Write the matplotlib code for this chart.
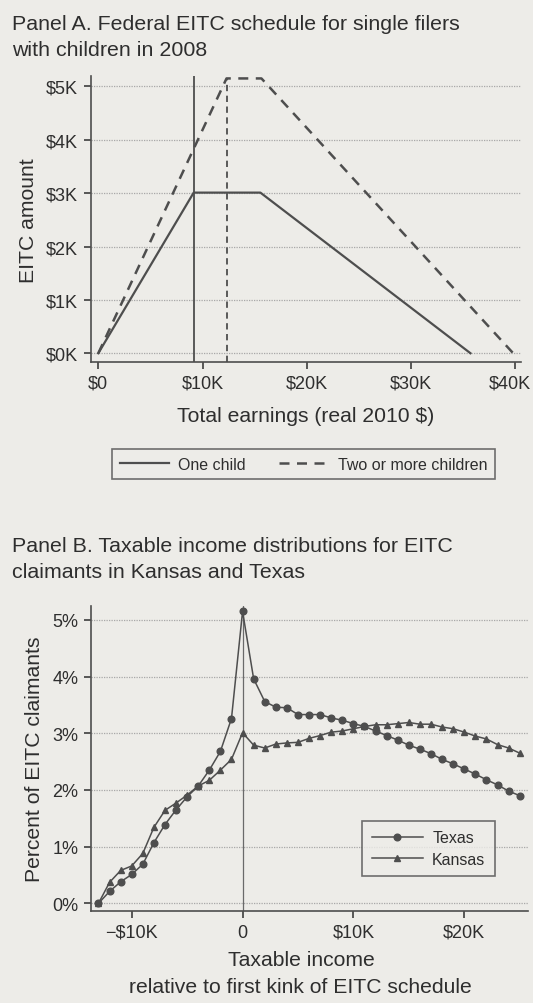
import numpy as np
import matplotlib
matplotlib.use("Agg")
import matplotlib.pyplot as plt
import matplotlib.transforms as mtransforms
from matplotlib.ticker import FuncFormatter

# Panel A: EITC schedule kinks (earnings in $K, credit in $K)
one_child_x = [0, 9.15, 15.55, 35.7]
one_child_y = [0, 3.01, 3.01, 0]
two_child_x = [0, 12.3, 15.65, 39.8]
two_child_y = [0, 5.15, 5.15, 0]
kink_one = 9.15
kink_two = 12.3
a_xticks = [0, 10, 20, 30, 40]
a_xlabels = [r"\$0", r"\$10K", r"\$20K", r"\$30K", r"\$40K"]
a_yticks = [0, 1, 2, 3, 4, 5]
a_ylabels = [r"\$0K", r"\$1K", r"\$2K", r"\$3K", r"\$4K", r"\$5K"]

# Panel B: taxable income bins relative to first kink ($K), percent of claimants
bins = list(range(-13, 26))
texas = [0.0, 0.21, 0.38, 0.51, 0.69, 1.07, 1.39, 1.65, 1.88, 2.07, 2.35, 2.68, 3.26,
         5.15, 3.96, 3.56, 3.46, 3.45, 3.33, 3.33, 3.33, 3.27, 3.23, 3.17, 3.12, 3.04,
         2.96, 2.88, 2.79, 2.72, 2.64, 2.54, 2.46, 2.37, 2.28, 2.18, 2.09, 1.98, 1.90]
kansas = [0.0, 0.37, 0.58, 0.66, 0.88, 1.34, 1.64, 1.77, 1.91, 2.07, 2.17, 2.35, 2.54,
          3.01, 2.79, 2.74, 2.81, 2.83, 2.84, 2.91, 2.96, 3.02, 3.04, 3.08, 3.12, 3.15,
          3.15, 3.17, 3.19, 3.16, 3.16, 3.11, 3.08, 3.02, 2.95, 2.90, 2.80, 2.74, 2.65]
b_xticks = [-10, 0, 10, 20]
b_xlabels = ["\u2212\\$10K", "0", r"\$10K", r"\$20K"]
b_yticks = [0, 1, 2, 3, 4, 5]

BG = "#edece8"
INK = "#2e2e2e"
LINE = "#4e4e4e"
GRID = "#a8a8a8"

plt.rcParams["font.family"] = ["Liberation Sans", "DejaVu Sans"]
plt.rcParams["text.color"] = INK
plt.rcParams["axes.labelcolor"] = INK
plt.rcParams["xtick.color"] = INK
plt.rcParams["ytick.color"] = INK

W, H = 533, 1004
fig = plt.figure(figsize=(W / 100, H / 100), dpi=100, facecolor=BG)


def px_axes(left, top, right, bottom):
    return fig.add_axes([left / W, 1 - bottom / H, (right - left) / W, (bottom - top) / H])


def style(ax):
    ax.set_facecolor(BG)
    for s in ["top", "right"]:
        ax.spines[s].set_visible(False)
    for s in ["left", "bottom"]:
        ax.spines[s].set_color(LINE)
        ax.spines[s].set_linewidth(1.2)
    ax.tick_params(direction="out", length=5, width=1.1, labelsize=13, pad=4, colors=INK)
    ax.grid(axis="y", color=GRID, linestyle=(0, (1, 1)), linewidth=0.9)
    ax.set_axisbelow(True)


# ---------- Panel A ----------
fig.text(12 / W, 1 - 25 / H, "Panel A. Federal EITC schedule for single filers",
         fontsize=15.4, va="center", ha="left")
fig.text(12 / W, 1 - 50 / H, "with children in 2008", fontsize=15.4, va="center", ha="left")

axA = px_axes(90.7, 77.3, 521, 363.3)
style(axA)
axA.set_xlim(-0.73, 40.55)
axA.set_ylim(-0.17, 5.19)
axA.plot(one_child_x, one_child_y, color=LINE, lw=1.6, label="One child")
axA.plot(two_child_x, two_child_y, color=LINE, lw=1.8, ls=(0, (4, 3)), label="Two or more children")
axA.axvline(kink_one, color=LINE, lw=1.3)
axA.plot([kink_two, kink_two], [-0.17, two_child_y[1]], color=LINE, lw=1.3, ls=(0, (3.5, 2.5)))
axA.set_xticks(a_xticks)
axA.set_xticklabels(a_xlabels)
axA.set_yticks(a_yticks)
axA.set_yticklabels(a_ylabels)
last = axA.get_xticklabels()[-1]
last.set_transform(last.get_transform() + mtransforms.ScaledTranslation(-5 / 100, 0, fig.dpi_scale_trans))
axA.set_ylabel("EITC amount", fontsize=15.2, labelpad=6)
axA.set_xlabel("Total earnings (real 2010 $)", fontsize=15.2, labelpad=10)
legA = fig.legend(*axA.get_legend_handles_labels(), loc="center", ncol=2,
                  bbox_to_anchor=((110 + 497) / 2 / W, 1 - 465 / H), fontsize=11.5,
                  frameon=True, fancybox=False, edgecolor=LINE, facecolor=BG,
                  handlelength=3.1, handletextpad=0.55, columnspacing=2.1, borderpad=0.5)
legA.get_frame().set_linewidth(1.2)

# ---------- Panel B ----------
fig.text(12 / W, 1 - 547 / H, "Panel B. Taxable income distributions for EITC",
         fontsize=15.4, va="center", ha="left")
fig.text(12 / W, 1 - 572 / H, "claimants in Kansas and Texas", fontsize=15.4, va="center", ha="left")

axB = px_axes(90.7, 606.7, 528, 912.3)
style(axB)
axB.set_xlim(-13.7, 25.75)
axB.set_ylim(-0.14, 5.25)
axB.axvline(0, color="#6a6a6a", lw=0.9)
axB.plot(bins, texas, color=LINE, lw=1.1, marker="o", ms=4.8, label="Texas")
axB.plot(bins, kansas, color=LINE, lw=1.1, marker="^", ms=5, label="Kansas")
axB.set_xticks(b_xticks)
axB.set_xticklabels(b_xlabels)
axB.set_yticks(b_yticks)
axB.yaxis.set_major_formatter(FuncFormatter(lambda v, p: f"{v:.0f}%"))
axB.set_ylabel("Percent of EITC claimants", fontsize=15.2, labelpad=6)
fig.text(301 / W, 1 - 961 / H, "Taxable income", fontsize=15.2, ha="center", va="center")
fig.text(300 / W, 1 - 988 / H, "relative to first kink of EITC schedule", fontsize=15.2, ha="center", va="center")
legB = axB.legend(loc="center", bbox_to_anchor=(0.7725, 0.2055), fontsize=11.5, frameon=True,
                  fancybox=False, edgecolor=LINE, facecolor=BG, handlelength=3.2,
                  handletextpad=0.6, borderpad=0.6, labelspacing=0.4)
legB.get_frame().set_linewidth(1.2)

fig.savefig("out.png", dpi=100, facecolor=BG)
